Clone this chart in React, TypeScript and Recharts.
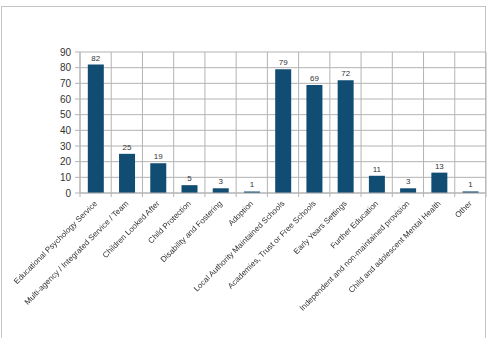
import { BarChart, Bar, XAxis, YAxis, CartesianGrid, LabelList } from 'recharts';

const categories = [
  'Educational Psychology Service',
  'Multi-agency / Integrated Service / Team',
  'Children Looked After',
  'Child Protection',
  'Disability and Fostering',
  'Adoption',
  'Local Authority Maintained Schools',
  'Academies, Trust or Free Schools',
  'Early Years Settings',
  'Further Education',
  'Independent and non-maintained provision',
  'Child and adolescent Mental Health',
  'Other',
];
const counts = [82, 25, 19, 5, 3, 1, 79, 69, 72, 11, 3, 13, 1];
const yTicks = [0, 10, 20, 30, 40, 50, 60, 70, 80, 90];

const data = categories.map((name, i) => ({ name, value: counts[i] }));

const W = 492;
const H = 338;
const GRID = '#b3b3b3';
const BAR = '#114d72';
const TEXT = '#333333';
const FONT = '"Liberation Sans", Arial, sans-serif';
const MARGIN = { top: 52, right: 6, bottom: 0, left: 0 };
const Y_W = 80;
const PLOT_W = W - MARGIN.left - MARGIN.right - Y_W;

function XTick(props: any) {
  const { x, y, payload, index } = props;
  const half = PLOT_W / categories.length / 2;
  const tx = x + 2;
  const ty = y + 11;
  return (
    <g>
      <line x1={x - half} x2={x - half} y1={y} y2={y + 4} stroke={GRID} />
      {index === categories.length - 1 && (
        <line x1={x + half} x2={x + half} y1={y} y2={y + 4} stroke={GRID} />
      )}
      <text
        x={tx}
        y={ty}
        transform={`rotate(-45 ${tx} ${ty})`}
        textAnchor="end"
        fontSize={8}
        fill={TEXT}
        fontFamily={FONT}
        style={{ filter: 'grayscale(1)' }}
      >
        {payload.value}
      </text>
    </g>
  );
}

export default function App() {
  return (
    <div style={{ position: 'absolute', left: 0, top: 0, width: W, height: H, overflow: 'hidden', background: '#fff' }}>
      <div
        style={{
          position: 'absolute',
          left: 1,
          top: 6,
          width: 485,
          height: 345,
          border: '1px solid #c4c4c4',
          boxSizing: 'border-box',
        }}
      />
      <div style={{ position: 'absolute', left: 0, top: 0 }}>
        <BarChart width={W} height={H} data={data} margin={MARGIN} barCategoryGap="25%">
          <CartesianGrid
            stroke={GRID}
            verticalCoordinatesGenerator={({ offset }: any) =>
              categories.map((_, i) => offset.left + (i * offset.width) / categories.length).concat(offset.left + offset.width)
            }
          />
          <XAxis
            dataKey="name"
            interval={0}
            height={H - 193}
            tickSize={0}
            tickMargin={0}
            axisLine={{ stroke: GRID }}
            tickLine={false}
            tick={<XTick />}
          />
          <YAxis
            width={Y_W}
            domain={[0, 90]}
            ticks={yTicks}
            interval={0}
            tickSize={5}
            tickMargin={4}
            axisLine={{ stroke: GRID }}
            tickLine={{ stroke: GRID }}
            tick={{ fontSize: 10, fill: TEXT, fontFamily: FONT }}
          />
          <Bar dataKey="value" fill={BAR} isAnimationActive={false}>
            <LabelList dataKey="value" position="top" offset={4} fontSize={8} fill={TEXT} fontFamily={FONT} />
          </Bar>
        </BarChart>
      </div>
    </div>
  );
}
